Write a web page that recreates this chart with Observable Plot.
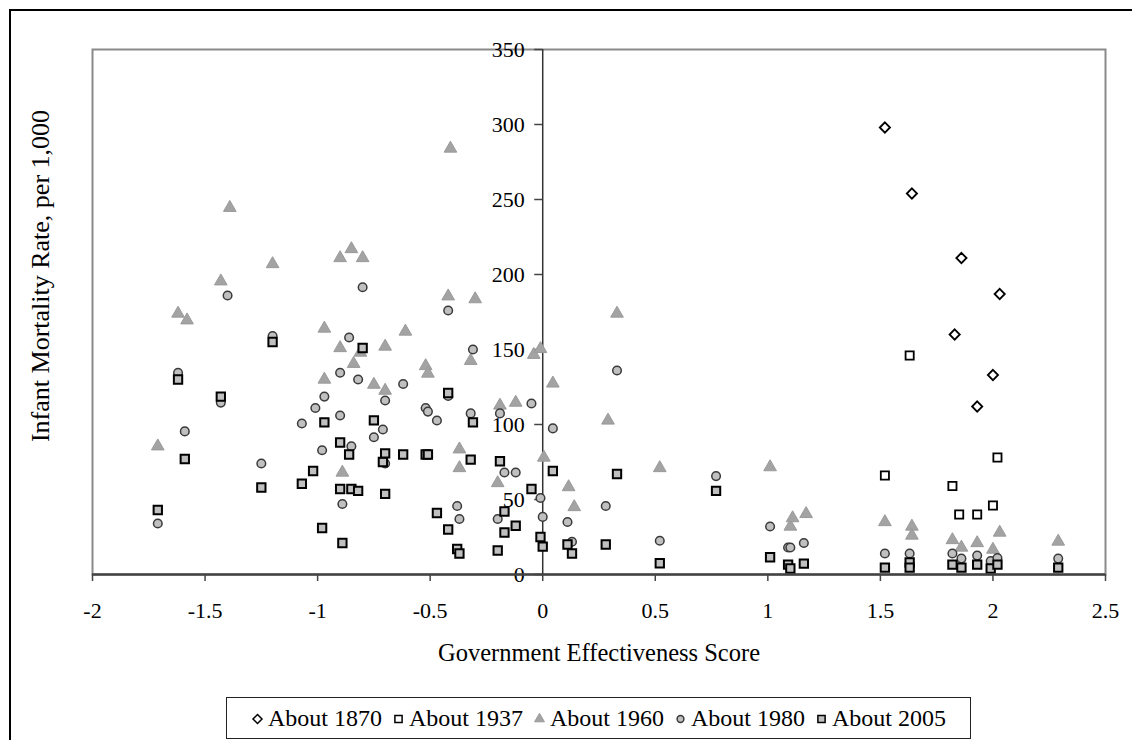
<!DOCTYPE html>
<html>
<head>
<meta charset="utf-8">
<script src="https://cdn.jsdelivr.net/npm/d3@7"></script>
<script src="https://cdn.jsdelivr.net/npm/@observablehq/plot@0.6"></script>
<style>
html,body{margin:0;padding:0;background:#fff;overflow:hidden;width:1132px;height:740px;}
#wrap{position:relative;width:1132px;height:740px;overflow:hidden;}
#border{position:absolute;left:9px;top:9px;width:1200px;height:800px;border:2px solid #000;box-sizing:border-box;}
#chart{position:absolute;left:0;top:0;}
#legend{position:absolute;left:226px;top:697px;width:745px;height:42px;border:1px solid #222;box-sizing:border-box;display:flex;align-items:center;justify-content:center;font-family:"Liberation Serif",serif;font-size:24px;background:#fff;color:#000;}
.item{display:flex;align-items:center;margin:0 5px;white-space:nowrap;}
.item svg{margin-right:4px;}
</style>
</head>
<body>
<div id="wrap"><div id="border"></div><div id="chart"></div><div id="legend"></div></div>
<script>
// ---- data ----
const seriesNames = ["About 1870", "About 1937", "About 1960", "About 1980", "About 2005"];
const xTicks = [-2, -1.5, -1, -0.5, 0, 0.5, 1, 1.5, 2, 2.5];
const yTicks = [0, 50, 100, 150, 200, 250, 300, 350];

const x1870 = [1.52, 1.64, 1.86, 2.03, 1.83, 2.00, 1.93];
const y1870 = [298, 254, 211, 187, 160, 133, 112];

const x1937 = [1.63, 1.52, 2.02, 1.82, 1.85, 1.93, 2.00];
const y1937 = [146, 66, 78, 59, 40, 40, 46];

const x1960 = [-1.71,-1.62,-1.58,-1.43,-1.39,-1.20,-0.97,-0.97,-0.90,-0.90,-0.89,-0.85,-0.84,-0.81,-0.80,-0.75,-0.70,-0.70,-0.61,-0.52,-0.51,-0.42,-0.41,-0.37,-0.37,-0.32,-0.30,-0.20,-0.19,-0.12,-0.04,-0.01,0.005,0.045,0.115,0.14,0.29,0.33,0.52,1.01,1.10,1.11,1.17,1.52,1.64,1.64,1.82,1.86,1.93,2.00,2.03,2.29];
const y1960 = [85.5,174,169.5,195.5,244.5,207,164,130,211,151,68,217,140.5,148,211,126.6,152,122.6,162,139,134,185.5,284,83.5,71,142.5,183.6,61,112.7,114.6,146.5,150.4,78,127.4,58.3,45,102.7,174,71,71.6,32,37.6,40.4,35,32,26,23,18,21,16.6,28,22];

const x1980 = [-1.71,-1.62,-1.59,-1.43,-1.40,-1.25,-1.20,-1.07,-1.01,-0.98,-0.97,-0.90,-0.90,-0.89,-0.86,-0.85,-0.82,-0.80,-0.75,-0.71,-0.70,-0.70,-0.62,-0.52,-0.51,-0.47,-0.42,-0.42,-0.38,-0.37,-0.32,-0.31,-0.20,-0.19,-0.17,-0.12,-0.05,-0.01,0.00,0.045,0.11,0.13,0.28,0.33,0.52,0.77,1.01,1.09,1.10,1.16,1.52,1.63,1.82,1.86,1.93,1.99,2.02,2.29];
const y1980 = [34,134.5,95.4,114.6,186,74,159,100.7,111,82.8,118.6,134.5,106,47,158,85.5,130,191.5,91.5,96.7,116,74,127,111,108.6,102.7,119,176,45.7,37,107.4,150,37,107.4,68,68,114,51,38.4,97.4,35,21.8,45.7,136,22.5,65.6,32,18,18,21,14,14,14,10.6,12.6,9,11,10.6];

const x2005 = [-1.71,-1.62,-1.59,-1.43,-1.25,-1.20,-1.07,-1.02,-0.98,-0.97,-0.90,-0.90,-0.89,-0.86,-0.85,-0.82,-0.80,-0.75,-0.71,-0.70,-0.70,-0.62,-0.52,-0.51,-0.47,-0.42,-0.42,-0.38,-0.37,-0.32,-0.31,-0.20,-0.19,-0.17,-0.17,-0.12,-0.05,-0.01,0.00,0.045,0.11,0.13,0.28,0.33,0.52,0.77,1.01,1.09,1.10,1.16,1.52,1.63,1.63,1.82,1.86,1.93,1.99,2.02,2.29];
const y2005 = [43,130,77,118.6,58,155,60.5,69,31,101.4,88,57,21,80,57,55.7,151,102.7,75,80.8,53.7,80,80,80,41,121,30,17,14,76.6,101.4,16,75.5,42,28,32.5,57,25,18.6,69,20,14,20,67,7.5,55.7,11.5,6.6,4,7.3,4.6,8,4.6,6.6,4.6,6.6,4,6.6,4.6];

// ---- styles ----
const styles = [
  {symbol: "diamond2", r: 4.6, fill: "#ffffff", stroke: "#000000", strokeWidth: 1.8},
  {symbol: "square",   r: 4.6, fill: "#ffffff", stroke: "#000000", strokeWidth: 1.8},
  {symbol: "triangle", r: 4.7, fill: "#a3a3a3", stroke: "#9a9a9a", strokeWidth: 1},
  {symbol: "circle",   r: 4.3, fill: "#c0c0c0", stroke: "#3a3a3a", strokeWidth: 1.5},
  {symbol: "square",   r: 4.7, fill: "#c0c0c0", stroke: "#000000", strokeWidth: 2}
];
const xs = [x1870, x1937, x1960, x1980, x2005];
const ys = [y1870, y1937, y1960, y1980, y2005];
const tables = xs.map((arr, i) => arr.map((x, j) => ({x, y: ys[i][j], series: seriesNames[i]})));

// ---- layout ----
const W = 1132, H = 695, mL = 92, mR = 27, mT = 49, mB = H - 574;
const xDomain = [-2, 2.5];
const yAxisShift = (W - mL - mR) * (0 - xDomain[0]) / (xDomain[1] - xDomain[0]);
const font = '"Liberation Serif", "Times New Roman", serif';

const chart = Plot.plot({
  width: W, height: H,
  marginLeft: mL, marginRight: mR, marginTop: mT, marginBottom: mB,
  style: {fontFamily: font, fontSize: "22px", background: "transparent", color: "#000", overflow: "visible"},
  x: {domain: xDomain},
  y: {domain: [0, 350]},
  marks: [
    Plot.frame({stroke: "#8a8a8a", strokeWidth: 2}),
    Plot.ruleX([0], {stroke: "#333", strokeWidth: 1.5}),
    Plot.axisX(xTicks, {tickSize: 7, tickPadding: 21, label: null, stroke: "#444", strokeWidth: 1.5, fontSize: 22, tickFormat: d => String(d)}),
    Plot.axisY(yTicks, {anchor: "left", dx: yAxisShift, tickSize: 8, tickPadding: 10, label: null, stroke: "#444", strokeWidth: 1.5, fontSize: 22, tickFormat: d => String(d)}),
    ...tables.map((t, i) => Plot.dot(t, {x: "x", y: "y", ...styles[i]})),
    Plot.ruleY([0], {stroke: "#444", strokeWidth: 2.5}),
    Plot.text(["Government Effectiveness Score"], {frameAnchor: "bottom", dy: 86, text: d => d, fontSize: 24.5}),
    Plot.text(["Infant Mortality Rate, per 1,000"], {frameAnchor: "left", textAnchor: "middle", rotate: -90, dx: -52, dy: -36, text: d => d, fontSize: 26})
  ]
});
document.getElementById("chart").appendChild(chart);

// ---- legend ----
function markerSvg(s) {
  const ns = "http://www.w3.org/2000/svg";
  const svg = document.createElementNS(ns, "svg");
  svg.setAttribute("width", 13); svg.setAttribute("height", 13);
  const p = document.createElementNS(ns, "path");
  const map = {diamond2: d3.symbolDiamond2, square: d3.symbolSquare, triangle: d3.symbolTriangle, circle: d3.symbolCircle};
  const size = s.symbol === "circle" ? 36 : s.symbol === "triangle" ? 42 : 52;
  p.setAttribute("d", d3.symbol(map[s.symbol], size)());
  p.setAttribute("transform", "translate(6.5,7)");
  p.setAttribute("fill", s.fill);
  p.setAttribute("stroke", s.stroke);
  p.setAttribute("stroke-width", Math.min(s.strokeWidth, 1.5));
  svg.appendChild(p);
  return svg;
}
const legend = document.getElementById("legend");
seriesNames.forEach((name, i) => {
  const item = document.createElement("div");
  item.className = "item";
  item.appendChild(markerSvg(styles[i]));
  const span = document.createElement("span");
  span.textContent = name;
  item.appendChild(span);
  legend.appendChild(item);
});
</script>
</body>
</html>
